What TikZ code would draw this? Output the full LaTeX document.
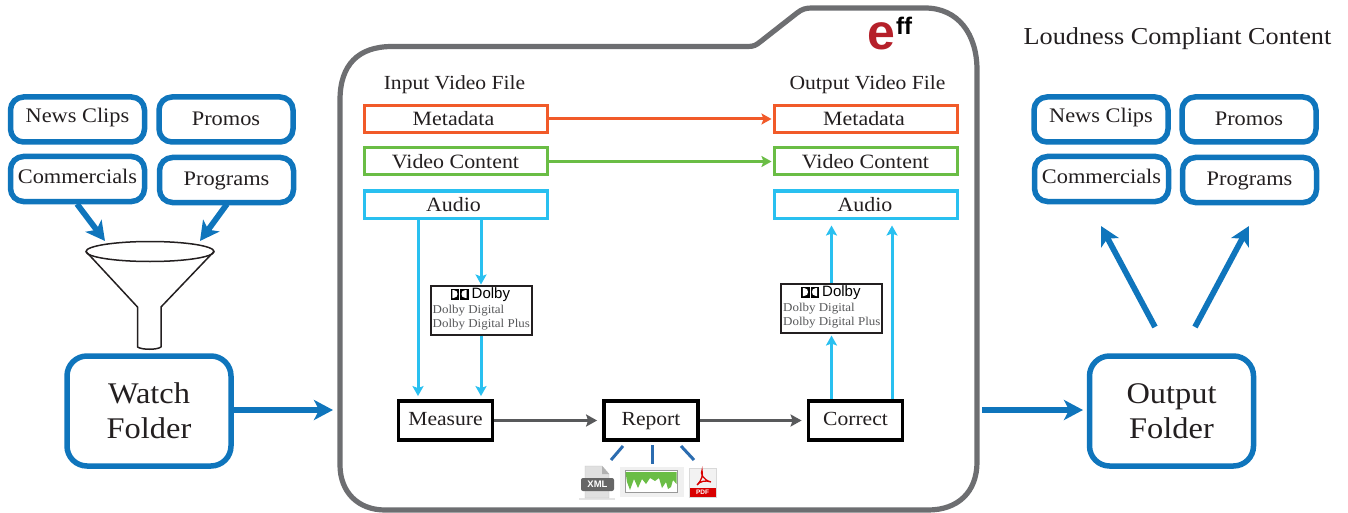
\documentclass[tikz,border=0pt]{standalone}
\usepackage{fontspec}
\setmainfont{Liberation Serif}[FakeStretch=1.08]
\newfontfamily\hel{Liberation Sans}
\usetikzlibrary{arrows.meta,calc}
\definecolor{bblue}{HTML}{0F75BC}
\definecolor{fgray}{HTML}{6D6E71}
\definecolor{dgray}{HTML}{58595B}
\definecolor{oor}{HTML}{F15A29}
\definecolor{ggr}{HTML}{6ABD45}
\definecolor{ccy}{HTML}{29C0F0}
\definecolor{rblue}{HTML}{2B6CB0}
\definecolor{txt}{HTML}{231F20}
\definecolor{effred}{HTML}{B5202A}
\tikzset{
 lbl/.style={inner sep=0pt,text=txt,font=\fontsize{20}{22}\selectfont},
 clip box/.style={draw=bblue,line width=5.5pt,rounded corners=13pt,minimum width=134pt,minimum height=45pt,fill=white,inner sep=0pt,text height=14pt,text depth=2pt,text=txt,font=\fontsize{20.7}{22}\selectfont},
 folder box/.style={draw=bblue,line width=5.5pt,rounded corners=20pt,minimum width=164pt,minimum height=110pt,fill=white,align=center,inner sep=0pt,text=txt,font=\fontsize{30}{35}\selectfont},
 file box/.style={line width=3pt,minimum width=183pt,minimum height=27pt,fill=white,inner sep=0pt,text height=15pt,text depth=1pt,text=txt,font=\fontsize{20.3}{22}\selectfont},
 step box/.style={draw=black,line width=3.8pt,minimum width=94pt,minimum height=39pt,fill=white,inner sep=0pt,text height=13pt,text depth=3pt,text=txt,font=\fontsize{20}{22}\selectfont},
 dolby box/.style={draw=txt,line width=2pt,minimum width=101pt,minimum height=49pt,fill=white,inner sep=0pt},
 dolby text/.style={inner sep=0pt,anchor=north west,align=left,text=dgray,font=\fontsize{12}{13.5}\selectfont},
 dolby word/.style={inner sep=0pt,anchor=west,text=black,font=\hel\fontsize{15}{15}\selectfont},
 big arrow/.style={draw=bblue,line width=5.8pt,-{Stealth[length=19pt,width=20pt,inset=5pt]}},
 thin arrow/.style={line width=3pt,-{Stealth[length=10pt,width=11pt,inset=2pt]}},
 gray arrow/.style={draw=dgray,line width=3.4pt,shorten >=5pt,-{Stealth[length=11pt,width=12pt,inset=2pt]}},
 rep line/.style={draw=rblue,line width=3pt},
}
\newcommand{\dolbylogo}[2]{%
 \begin{scope}[shift={(#1)}]
 \fill[black] (21,4) rectangle (29.5,15);
 \fill[white] (22.8,5.5) -- (22.8,13.5) -- (24,13.5) .. controls (27,13.5) and (28,11.5) .. (28,9.5) .. controls (28,7.5) and (27,5.5) .. (24,5.5) -- cycle;
 \fill[black] (30.5,4) rectangle (39,15);
 \fill[white] (37.2,5.5) -- (37.2,13.5) -- (36,13.5) .. controls (33,13.5) and (32,11.5) .. (32,9.5) .. controls (32,7.5) and (33,5.5) .. (36,5.5) -- cycle;
 \node[dolby word] (#2w) at (42,10.5) {Dolby};
 \node[dolby text] (#2t) at (3,20.5) {Dolby Digital\\Dolby Digital Plus};
 \end{scope}}
\begin{document}
\begin{tikzpicture}[x=1pt,y=-1pt]
\useasboundingbox (0,0) rectangle (1348,513);
% main folder
\draw[draw=fgray,line width=5.2pt,line join=round,fill=white]
 (340,100) .. controls (340,65) and (358,46.5) .. (392,46.5)
 -- (748,46.5) .. controls (754,46.5) and (756,45) .. (760,42)
 -- (797,13) .. controls (802,9) and (806,8) .. (812,8)
 -- (925,8) .. controls (958,8) and (977,34) .. (977,70)
 -- (977,462) .. controls (977,492) and (958,510) .. (928,510)
 -- (385,510) .. controls (358,510) and (340,492) .. (340,465) -- cycle;
% left clips
\node[clip box] (n1) at (77.5,119.5) {\raisebox{2.5pt}{News Clips}};
\node[clip box] (p1) at (226,119.5) {Promos};
\node[clip box] (c1) at (77.5,179) {\raisebox{1pt}{Commercials}};
\node[clip box] (g1) at (226.5,180) {\raisebox{1pt}{Programs}};
% right clips
\node[clip box] (n2) at (1101,119.5) {\raisebox{2.5pt}{News Clips}};
\node[clip box] (p2) at (1249,119.5) {Promos};
\node[clip box] (c2) at (1101.5,179) {\raisebox{1pt}{Commercials}};
\node[clip box] (g2) at (1249.5,180) {\raisebox{1pt}{Programs}};
% folders
\node[folder box] (watch) at (149,411) {Watch\\Folder};
\node[folder box] (outf) at (1171.5,411) {Output\\Folder};
% funnel
\coordinate (funL) at (86,251.5);
\coordinate (funR) at (214,251.5);
\draw[draw=txt,line width=1.5pt,line join=round]
 (funL) -- (137.5,307) -- (137.5,347) .. controls (142,350) and (157,350) .. (161,347) -- (161,307) -- (funR);
\draw[draw=txt,line width=1.5pt] (150,251.5) ellipse [x radius=64,y radius=10];
% funnel arrows
\coordinate (fa1) at (77,204); \coordinate (fa1e) at (105,241);
\coordinate (fa2) at (227,204); \coordinate (fa2e) at (200,241);
\draw[big arrow] (fa1) -- (fa1e);
\draw[big arrow] (fa2) -- (fa2e);
% out arrows
\coordinate (oa1) at (1155,327); \coordinate (oa1e) at (1101,226);
\coordinate (oa2) at (1195,327); \coordinate (oa2e) at (1249,226);
\draw[big arrow] (oa1) -- (oa1e);
\draw[big arrow] (oa2) -- (oa2e);
% folder arrows
\coordinate (inE) at (333,410);
\coordinate (outS) at (982,410);
\coordinate (outE) at (1083,410);
\draw[big arrow] (watch.east |- inE) -- (inE);
\draw[big arrow] (outS) -- (outE);
% labels
\node[lbl] (ivf) at (454.5,84.5) {Input Video File};
\node[lbl] (ovf) at (867.5,84.5) {Output Video File};
\node[lbl,font=\fontsize{24.3}{26}\selectfont] (lcc) at (1177.5,39) {Loudness Compliant Content};
% file boxes
\node[file box,draw=oor] (m1) at (455.5,119) {\hspace*{-4pt}Metadata};
\node[file box,draw=ggr] (v1) at (455.5,161.5) {Video Content};
\node[file box,draw=ccy] (a1) at (455.5,204.5) {\hspace*{-4pt}Audio};
\node[file box,draw=oor] (m2) at (865.5,119) {\hspace*{-3pt}Metadata};
\node[file box,draw=ggr] (v2) at (865.5,161.5) {Video Content};
\node[file box,draw=ccy] (a2) at (865.5,204.5) {\hspace*{-1pt}Audio};
\draw[draw=oor,thin arrow,shorten >=1pt] (m1) -- (m2);
\draw[draw=ggr,thin arrow,shorten >=1pt] (v1) -- (v2);
% steps
\node[step box] (meas) at (445.5,420.5) {Measure};
\node[step box] (rep) at (651,420.5) {Report};
\node[step box] (corr) at (855.5,420.5) {Correct};
\draw[gray arrow,yshift=1.5pt] (meas) -- (rep);
\draw[gray arrow,yshift=1.5pt] (rep) -- (corr);
% dolby
\node[dolby box] (d1) at (481,310) {};
\node[dolby box] (d2) at (831.5,308) {};
\dolbylogo{d1.north west}{da}
\dolbylogo{d2.north west}{db}
% cyan connectors
\coordinate (l1) at (418,204.5);
\coordinate (l2) at (892,204.5);
\draw[draw=ccy,thin arrow,shorten >=3pt] (l1 |- a1.south) -- (l1 |- meas.north);
\draw[draw=ccy,thin arrow] (d1 |- a1.south) -- (d1.north);
\draw[draw=ccy,thin arrow,shorten >=3pt] (d1.south) -- (d1 |- meas.north);
\draw[draw=ccy,thin arrow,shorten >=2pt] (d2 |- corr.north) -- (d2.south);
\draw[draw=ccy,thin arrow,shorten >=6pt] (d2.north) -- (d2 |- a2.south);
\draw[draw=ccy,thin arrow,shorten >=6pt] (l2 |- corr.north) -- (l2 |- a2.south);
% report lines
\coordinate (r1) at (623,446); \coordinate (r1e) at (611,460);
\coordinate (r2) at (652,445); \coordinate (r2e) at (652,464);
\coordinate (r3) at (681,446); \coordinate (r3e) at (694,460);
\draw[rep line] (r1) -- (r1e);
\draw[rep line] (r2) -- (r2e);
\draw[rep line] (r3) -- (r3e);
% XML icon
\fill[gray!20] (579,498) rectangle (615,500);
\fill[black!12,draw=black!25,line width=.4pt] (585,466) -- (602,466) -- (609,474) -- (609,498) -- (585,498) -- cycle;
\fill[black!30] (602,466) -- (602,474) -- (609,474) -- cycle;
\fill[black!60,rounded corners=2pt] (581,478) -- (581,491) -- (614,491) -- (614,478) -- cycle;
\node[inner sep=0pt,text=white,font=\hel\bfseries\fontsize{9.5}{10}\selectfont] (xml) at (597.5,484.5) {XML};
% chart icon
\fill[black!6] (620,467) rectangle (684,497);
\fill[white,draw=black!40,line width=.3pt] (625,470) rectangle (677,492);
\fill[ggr] (625.5,472) -- (676.5,472) -- (676.5,484) -- (673,480) -- (671,487) -- (668,489) -- (666,482) -- (662,488) -- (659,478) -- (655,481) -- (650,478) -- (646,484) -- (642,479) -- (638,488) -- (634,479) -- (630,490) -- (627,482) -- cycle;
% PDF icon
\fill[black!5,draw=black!15,line width=.4pt] (689,468) rectangle (716.5,497);
\fill[red!85!black] (689.5,488) rectangle (716,497);
\draw[red!85!black,line width=1.3pt] (697,485) .. controls (702,480) and (703,475) .. (702,470.5) .. controls (700,473) and (703,480) .. (711,482) .. controls (706,480) and (700,481) .. (697,485);
\node[inner sep=0pt,text=white,font=\hel\bfseries\fontsize{6.5}{7}\selectfont] (pdf) at (702.5,492.5) {PDF};
% eff logo
\node[inner sep=0pt,text=effred,font=\hel\bfseries\fontsize{50}{50}\selectfont] (elogo) at (881,36.5) {e};
\node[inner sep=0pt,text=black,font=\hel\bfseries\fontsize{24}{24}\selectfont] (fflogo) at (904,25.5) {ff};
\end{tikzpicture}
\end{document}
